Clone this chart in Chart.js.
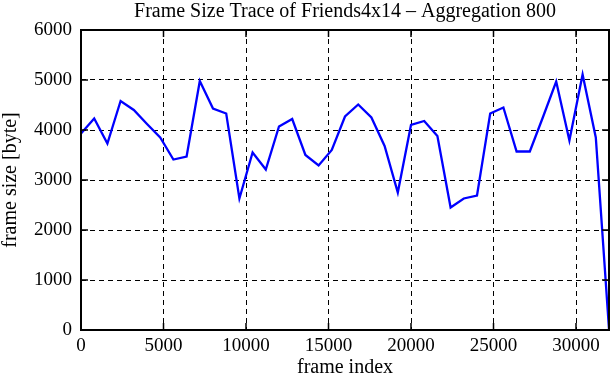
<!DOCTYPE html>
<html lang="en">
<head>
<meta charset="UTF-8" />
<title>Frame Size Trace of Friends4x14</title>
<script src="https://cdn.jsdelivr.net/npm/chart.js"></script>
<style>
  html, body { margin: 0; padding: 0; background: #fff; }
  #wrap { width: 611px; height: 380px; }
</style>
</head>
<body>
<div id="wrap"><canvas id="trace"></canvas></div>
<script>
const frameIndex = [0, 800, 1600, 2400, 3200, 4000, 4800, 5600, 6400, 7200,
  8000, 8800, 9600, 10400, 11200, 12000, 12800, 13600, 14400, 15200,
  16000, 16800, 17600, 18400, 19200, 20000, 20800, 21600, 22400, 23200,
  24000, 24800, 25600, 26400, 27200, 28000, 28800, 29600, 30400, 31200, 32000];

const frameSize = [3930, 4230, 3730, 4580, 4400, 4120, 3850, 3410, 3470, 4980,
  4430, 4330, 2630, 3550, 3210, 4070, 4220, 3500, 3290, 3600,
  4270, 4510, 4250, 3680, 2750, 4100, 4180, 3880, 2450, 2630,
  2690, 4330, 4450, 3570, 3570, 4260, 4970, 3790, 5110, 3850, 20];

const xTicks = [0, 5000, 10000, 15000, 20000, 25000, 30000];
const yTicks = [0, 1000, 2000, 3000, 4000, 5000, 6000];

const serif = "'Liberation Serif', 'DejaVu Serif', serif";

// gnuplot style frame: solid border with short inward tics on all sides
const frame = {
  id: 'frame',
  afterDatasetsDraw(chart) {
    const { ctx, chartArea: a, scales } = chart;
    const len = 7;
    ctx.save();
    ctx.strokeStyle = '#000';
    ctx.lineWidth = 1.5;
    ctx.beginPath();
    xTicks.forEach(v => {
      const px = scales.x.getPixelForValue(v);
      ctx.moveTo(px, a.bottom); ctx.lineTo(px, a.bottom - len);
      ctx.moveTo(px, a.top); ctx.lineTo(px, a.top + len);
    });
    yTicks.forEach(v => {
      const py = scales.y.getPixelForValue(v);
      ctx.moveTo(a.left, py); ctx.lineTo(a.left + len, py);
      ctx.moveTo(a.right, py); ctx.lineTo(a.right - len, py);
    });
    ctx.stroke();
    ctx.lineWidth = 2;
    ctx.strokeRect(a.left, a.top, a.right - a.left, a.bottom - a.top);
    ctx.restore();
  }
};

new Chart(document.getElementById('trace'), {
  type: 'line',
  data: {
    datasets: [{
      data: frameIndex.map((x, i) => ({ x: x, y: frameSize[i] })),
      borderColor: '#0000ff',
      borderWidth: 2.3,
      pointRadius: 0,
      tension: 0,
      fill: false
    }]
  },
  options: {
    responsive: true,
    maintainAspectRatio: false,
    animation: false,
    layout: { padding: { left: 0, right: 2, top: 0, bottom: 0 } },
    plugins: {
      legend: { display: false },
      tooltip: { enabled: false },
      title: {
        display: true,
        fullSize: false,
        text: 'Frame Size Trace of Friends4x14 \u2013 Aggregation 800',
        color: '#000',
        font: { family: serif, size: 20, weight: 'normal' },
        padding: { top: 0, bottom: 6 }
      }
    },
    scales: {
      x: {
        type: 'linear',
        min: 0,
        max: 32000,
        afterBuildTicks: s => { s.ticks = xTicks.map(v => ({ value: v })); },
        afterFit: s => { s.height = 50; },
        grid: { color: '#000', lineWidth: 1, drawTicks: false },
        border: { display: false, dash: [5, 4] },
        ticks: {
          color: '#000',
          padding: 5,
          maxRotation: 0,
          font: { family: serif, size: 19 },
          callback: v => String(v)
        },
        title: {
          display: true,
          text: 'frame index',
          color: '#000',
          font: { family: serif, size: 20 },
          padding: { top: 0, bottom: 0 }
        }
      },
      y: {
        min: 0,
        max: 6000,
        afterBuildTicks: s => { s.ticks = yTicks.map(v => ({ value: v })); },
        afterFit: s => { s.width = 81; },
        grid: { color: '#000', lineWidth: 1, drawTicks: false },
        border: { display: false, dash: [5, 4] },
        ticks: {
          color: '#000',
          padding: 9,
          font: { family: serif, size: 19 },
          callback: v => String(v)
        },
        title: {
          display: true,
          text: 'frame size [byte]',
          color: '#000',
          font: { family: serif, size: 20 },
          padding: { top: -1, bottom: 0 }
        }
      }
    }
  },
  plugins: [frame]
});
</script>
</body>
</html>
